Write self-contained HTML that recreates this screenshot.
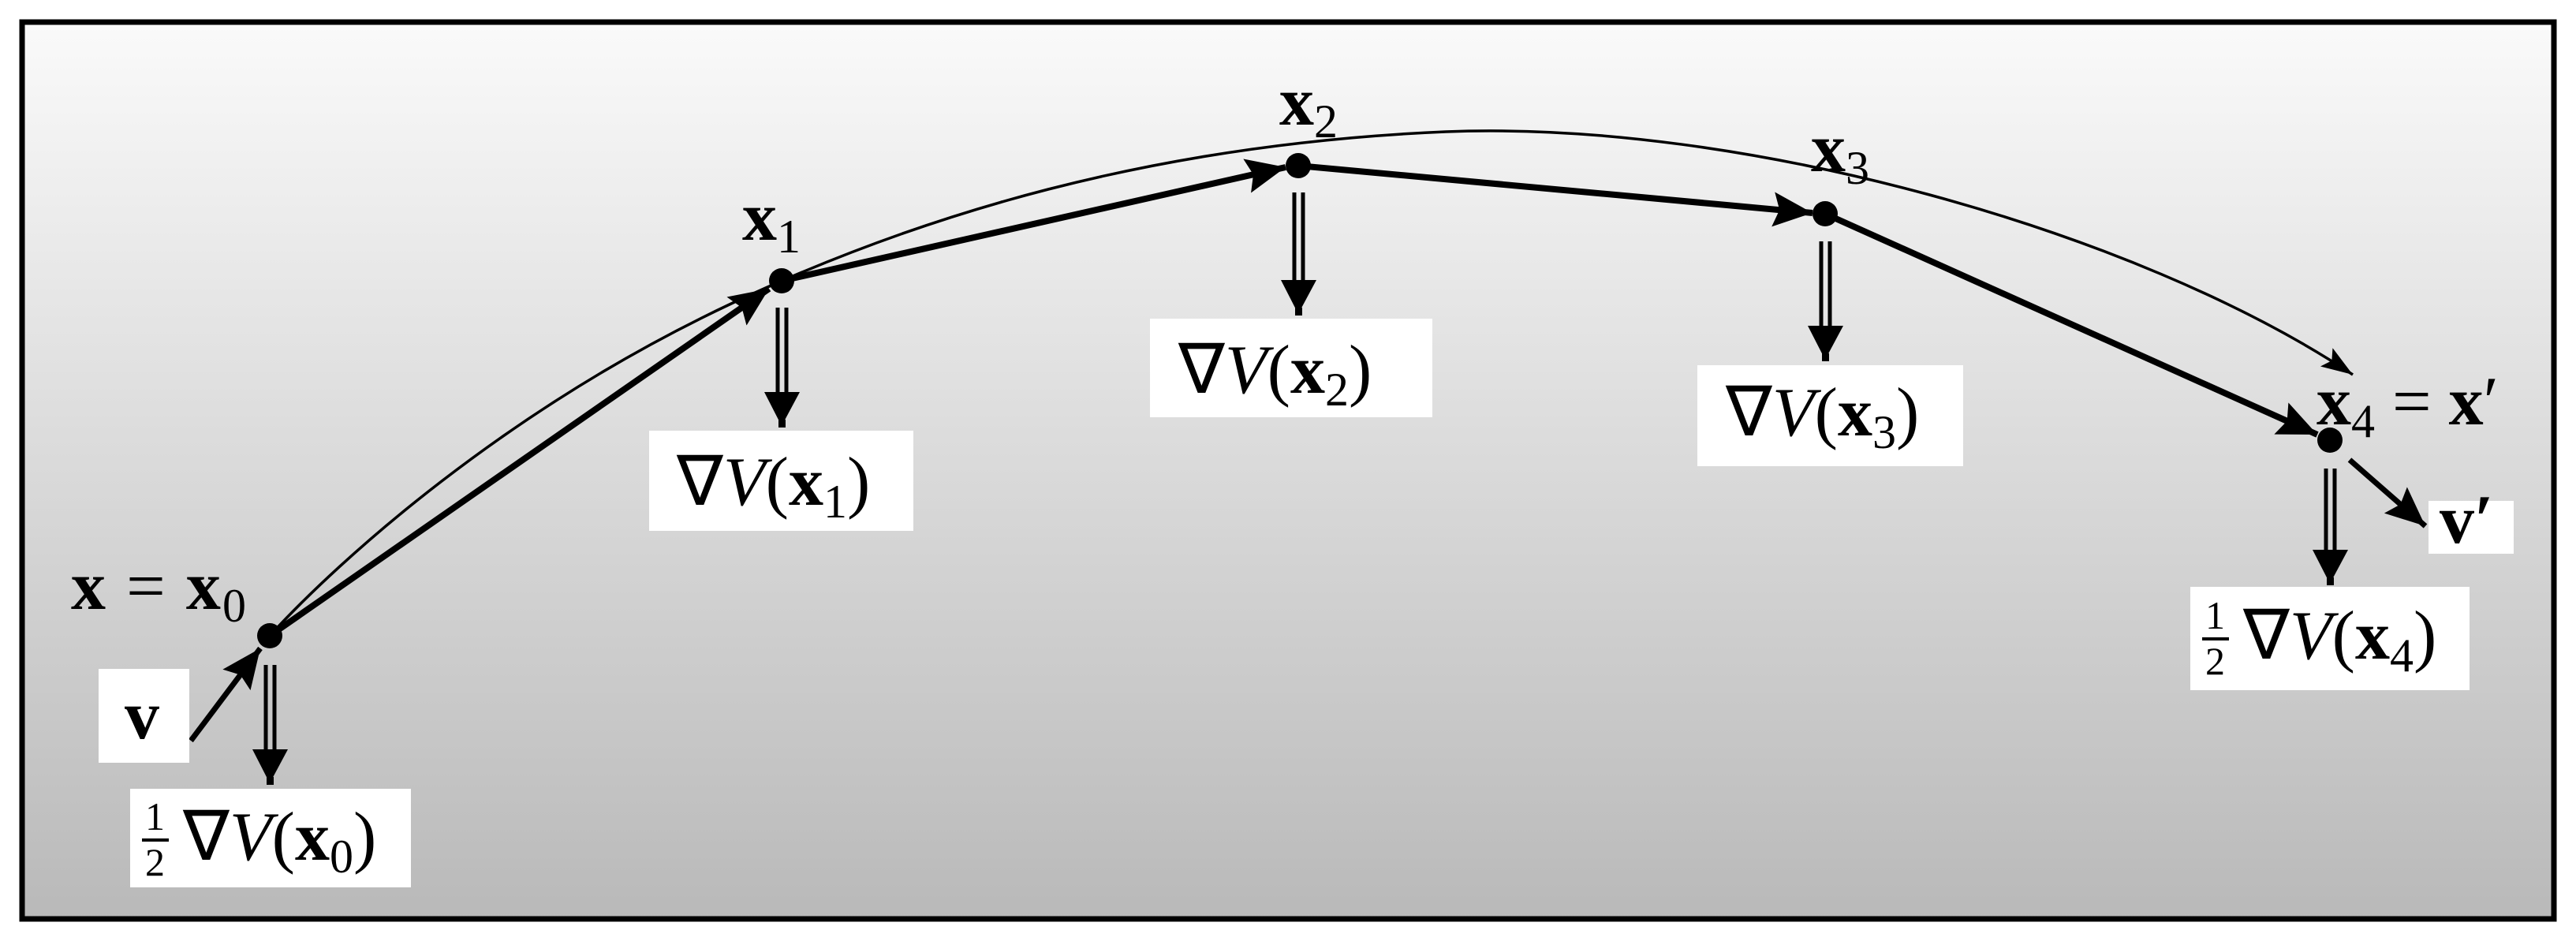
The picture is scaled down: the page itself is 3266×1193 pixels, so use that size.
<!DOCTYPE html>
<html><head><meta charset="utf-8"><style>
html,body{margin:0;padding:0;background:#fff}
svg{display:block}
text{font-family:"Liberation Serif",serif;fill:#000}
</style></head><body>
<svg width="3266" height="1193" viewBox="0 0 3266 1193" xmlns="http://www.w3.org/2000/svg">
<defs>
<linearGradient id="g" x1="0" y1="0" x2="0" y2="1">
<stop offset="0" stop-color="#fafafa"/><stop offset="1" stop-color="#b9b9b9"/>
</linearGradient>
<marker id="ah" markerUnits="userSpaceOnUse" markerWidth="60" markerHeight="50" refX="50" refY="22" orient="auto">
<path d="M0,0 L50,22 L0,44 L8,22 Z" fill="#000"/>
</marker>
<marker id="ahs" markerUnits="userSpaceOnUse" markerWidth="50" markerHeight="34" refX="40" refY="14" orient="auto">
<path d="M0,0 L40,14 L0,28 L8,14 Z" fill="#000"/>
</marker>
</defs>
<rect x="0" y="0" width="3266" height="1193" fill="#fff"/>
<rect x="28" y="28" width="3210" height="1137" fill="url(#g)" stroke="#000" stroke-width="7"/>

<!-- thin arc -->
<path d="M342,806 C430,710 640,520 927,385 C1166,273 1458,183 1833,167 C2208,152 2708,292 2983,475" fill="none" stroke="#000" stroke-width="3.5" marker-end="url(#ahs)"/>

<!-- thick path -->
<g stroke="#000" stroke-width="8" fill="none" marker-end="url(#ah)">
<line x1="342" y1="806" x2="975" y2="366"/>
<line x1="991" y1="356" x2="1630" y2="212"/>
<line x1="1646" y1="210" x2="2298" y2="270"/>
<line x1="2314" y1="271" x2="2938" y2="551"/>
<line x1="242" y1="939" x2="330" y2="822" stroke-width="7"/>
<line x1="2979" y1="583" x2="3075" y2="667" stroke-width="7"/>
</g>

<!-- dots -->
<g fill="#000">
<circle cx="342" cy="806" r="16"/>
<circle cx="991" cy="356" r="16"/>
<circle cx="1646" cy="210" r="16"/>
<circle cx="2314" cy="271" r="16"/>
<circle cx="2954" cy="558" r="16"/>
</g>

<!-- double down arrows -->
<g stroke="#000" stroke-width="5">
<line x1="337" y1="843" x2="337" y2="955"/><line x1="348" y1="843" x2="348" y2="955"/>
<line x1="986" y1="390" x2="986" y2="502"/><line x1="997" y1="390" x2="997" y2="502"/>
<line x1="1641" y1="244" x2="1641" y2="360"/><line x1="1652" y1="244" x2="1652" y2="360"/>
<line x1="2309" y1="306" x2="2309" y2="418"/><line x1="2320" y1="306" x2="2320" y2="418"/>
<line x1="2949" y1="594" x2="2949" y2="702"/><line x1="2960" y1="594" x2="2960" y2="702"/>
</g>
<g fill="#000">
<path d="M320,950 L365,950 L342,993 Z"/><rect x="338" y="985" width="9" height="10"/>
<path d="M969,497 L1014,497 L991,540 Z"/><rect x="987" y="532" width="9" height="10"/>
<path d="M1624,355 L1669,355 L1646,398 Z"/><rect x="1642" y="390" width="9" height="10"/>
<path d="M2292,413 L2337,413 L2314,456 Z"/><rect x="2310" y="448" width="9" height="10"/>
<path d="M2932,697 L2977,697 L2954,740 Z"/><rect x="2950" y="732" width="9" height="10"/>
</g>

<!-- white boxes -->
<g fill="#fff">
<rect x="125" y="848" width="115" height="119"/>
<rect x="165" y="1000" width="356" height="125"/>
<rect x="823" y="546" width="335" height="127"/>
<rect x="1458" y="404" width="358" height="125"/>
<rect x="2152" y="463" width="337" height="128"/>
<rect x="3079" y="635" width="108" height="67"/>
<rect x="2777" y="744" width="354" height="131"/>
</g>

<!-- labels -->
<g font-size="88">
<text x="158" y="936" font-weight="bold">v</text>
<text x="3093" y="688" font-weight="bold">v′</text>

<text x="90" y="772" textLength="222"><tspan font-weight="bold">x</tspan> = <tspan font-weight="bold">x</tspan><tspan font-size="60" dy="16">0</tspan></text>
<text x="941" y="304"><tspan font-weight="bold">x</tspan><tspan font-size="60" dy="16">1</tspan></text>
<text x="1622" y="158"><tspan font-weight="bold">x</tspan><tspan font-size="60" dy="16">2</tspan></text>
<text x="2296" y="217"><tspan font-weight="bold">x</tspan><tspan font-size="60" dy="16">3</tspan></text>
<text x="2937" y="538"><tspan font-weight="bold">x</tspan><tspan font-size="60" dy="16">4</tspan><tspan dy="-16"> = </tspan><tspan font-weight="bold">x</tspan>′</text>

<text x="858" y="640">∇<tspan font-style="italic">V</tspan>(<tspan font-weight="bold">x</tspan><tspan font-size="60" dy="16">1</tspan><tspan dy="-16">)</tspan></text>
<text x="1494" y="498">∇<tspan font-style="italic">V</tspan>(<tspan font-weight="bold">x</tspan><tspan font-size="60" dy="16">2</tspan><tspan dy="-16">)</tspan></text>
<text x="2188" y="552">∇<tspan font-style="italic">V</tspan>(<tspan font-weight="bold">x</tspan><tspan font-size="60" dy="16">3</tspan><tspan dy="-16">)</tspan></text>

<text x="232" y="1090">∇<tspan font-style="italic">V</tspan>(<tspan font-weight="bold">x</tspan><tspan font-size="60" dy="16">0</tspan><tspan dy="-16">)</tspan></text>
<text x="2844" y="835">∇<tspan font-style="italic">V</tspan>(<tspan font-weight="bold">x</tspan><tspan font-size="60" dy="16">4</tspan><tspan dy="-16">)</tspan></text>
</g>
<g font-size="50">
<text x="184" y="1052">1</text><rect x="180" y="1063" width="34" height="4" fill="#000"/><text x="184" y="1110">2</text>
<text x="2796" y="797">1</text><rect x="2792" y="808" width="34" height="4" fill="#000"/><text x="2796" y="855">2</text>
</g>
</svg>
</body></html>
